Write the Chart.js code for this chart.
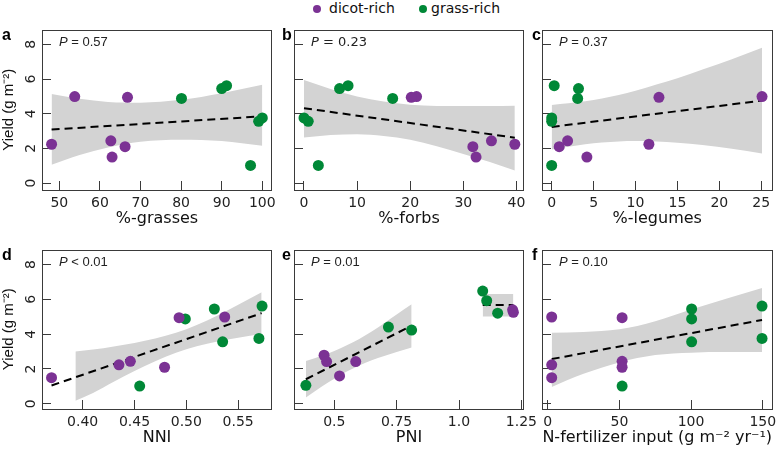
<!DOCTYPE html>
<html>
<head>
<meta charset="utf-8">
<script src="https://cdn.jsdelivr.net/npm/chart.js@4/dist/chart.umd.min.js"></script>
<style>
  body { margin: 0; background: #fff; }
  #wrap { position: relative; width: 778px; height: 451px; overflow: hidden; }
  #wrap canvas { position: absolute; }
  .key { position: absolute; top: 0; font: 14px "DejaVu Sans"; line-height: 17px; color: #111; white-space: nowrap; }
  .dot { position: absolute; top: 5px; width: 8px; height: 8px; border-radius: 50%; }
</style>
</head>
<body>
<div id="wrap">
  <span class="dot" style="left:313px; background:#7b3294"></span>
  <span class="key" style="left:329px">dicot-rich</span>
  <span class="dot" style="left:419px; background:#008837"></span>
  <span class="key" style="left:431px">grass-rich</span>
</div>
<script>
// yield per site, shared by panels a-d and f
const dicotYield = [2.24, 4.99, 2.44, 1.50, 2.10, 4.95];
const grassYield = [4.88, 5.45, 5.62, 1.02, 3.56, 3.76];
const yTicks = [0, 2, 4, 6, 8];

// a: %-grasses
const grassesDicot = [48.1, 53.8, 62.7, 63.0, 66.2, 66.8];
const grassesGrass = [80.1, 90.0, 91.2, 97.1, 99.1, 100.0];
const grassesFitX = [48.1, 100];
const grassesFitY = [3.09, 3.85];
const grassesBandX = [48.1, 55, 62, 70, 80, 90, 100];
const grassesBandLo = [1.05, 1.62, 2.05, 2.38, 2.5, 2.42, 2.15];
const grassesBandHi = [5.14, 4.86, 4.68, 4.64, 4.8, 5.18, 5.67];
const grassesTicks = [50, 60, 70, 80, 90, 100];

// b: %-forbs
const forbsDicot = [39.7, 21.2, 35.3, 32.4, 31.8, 20.2];
const forbsGrass = [16.7, 6.7, 8.3, 2.7, 0.8, 0.0];
const forbsFitX = [0, 39.7];
const forbsFitY = [4.32, 2.62];
const forbsBandX = [0, 5, 10, 15, 20, 25, 30, 35, 39.7];
const forbsBandLo = [2.63, 2.78, 2.82, 2.72, 2.5, 2.12, 1.68, 1.22, 0.72];
const forbsBandHi = [5.94, 5.42, 5.0, 4.7, 4.52, 4.45, 4.44, 4.44, 4.46];
const forbsTicks = [0, 10, 20, 30, 40];

// c: %-legumes
const legumesDicot = [11.6, 25.1, 1.9, 4.2, 0.9, 12.8];
const legumesGrass = [3.1, 3.2, 0.3, 0.0, 0.0, 0.0];
const legumesFitX = [0, 25.1];
const legumesFitY = [3.24, 4.76];
const legumesBandX = [0, 2, 4, 6, 8, 10, 12.5, 15, 18, 21.5, 25.1];
const legumesBandLo = [1.94, 2.1, 2.24, 2.34, 2.4, 2.42, 2.4, 2.33, 2.2, 1.98, 1.71];
const legumesBandHi = [4.51, 4.6, 4.72, 4.88, 5.08, 5.32, 5.68, 6.05, 6.55, 7.15, 7.81];
const legumesTicks = [0, 5, 10, 15, 20, 25];

// d: NNI
const nniDicot = [0.435, 0.537, 0.446, 0.370, 0.479, 0.493];
const nniGrass = [0.499, 0.527, 0.573, 0.455, 0.535, 0.570];
const nniFitX = [0.370, 0.5726];
const nniFitY = [1.05, 5.21];
const nniBandX = [0.393, 0.41, 0.43, 0.45, 0.47, 0.49, 0.51, 0.53, 0.55, 0.5726];
const nniBandLo = [0.17, 0.62, 1.26, 1.88, 2.45, 2.94, 3.31, 3.58, 3.80, 4.01];
const nniBandHi = [3.0, 3.12, 3.30, 3.50, 3.75, 4.08, 4.53, 5.08, 5.70, 6.41];
const nniTicks = [0.40, 0.45, 0.50, 0.55];
const nniLabels = ['0.40', '0.45', '0.50', '0.55'];

// e: PNI (own yields)
const pniDicotX = [0.459, 0.469, 0.521, 0.586, 1.215, 1.218];
const pniDicotY = [2.79, 2.43, 1.60, 2.43, 5.40, 5.26];
const pniGrassX = [0.386, 0.717, 0.810, 1.095, 1.111, 1.155];
const pniGrassY = [1.06, 4.41, 4.24, 6.48, 5.93, 5.21];
const pniFitX = [0.386, 0.810];
const pniFitY = [1.41, 4.49];
const pniBandX = [0.386, 0.45, 0.5, 0.55, 0.6, 0.65, 0.7, 0.75, 0.81];
const pniBandLo = [0.36, 0.99, 1.44, 1.85, 2.20, 2.50, 2.75, 2.98, 3.23];
const pniBandHi = [2.46, 2.76, 3.04, 3.36, 3.73, 4.16, 4.63, 5.13, 5.72];
const pniFit2X = [1.095, 1.218];
const pniFit2Y = [5.68, 5.68];
const pniBand2X = [1.095, 1.218];
const pniBand2Lo = [5.02, 5.02];
const pniBand2Hi = [6.31, 6.31];
const pniTicks = [0.5, 0.75, 1.0, 1.25];
const pniLabels = ['0.5', '0.75', '1.0', '1.25'];

// f: N-fertilizer input
const nDicot = [2.8, 2.8, 51.9, 2.8, 51.9, 51.9];
const nGrass = [100.4, 100.4, 149.5, 51.9, 100.4, 149.5];
const nFitX = [2.8, 149.5];
const nFitY = [2.57, 4.82];
const nBandX = [2.8, 25, 50, 75, 100, 125, 149.5];
const nBandLo = [0.97, 1.72, 2.38, 2.8, 2.94, 2.97, 2.98];
const nBandHi = [4.08, 4.12, 4.28, 4.75, 5.42, 6.05, 6.66];
const nTicks = [0, 50, 100, 150];

const purple = '#7b3294';
const green = '#008837';
const bandGray = '#d3d3d3';
const axisColor = '#3a3a3a';

function pts(xs, ys) {
    return xs.map((x, i) => ({ x: x, y: ys[i] }));
}

// box around the plot, panel letter and P value
const panelDecor = {
    id: 'panelDecor',
    afterDraw(chart, args, o) {
        const ctx = chart.ctx;
        const a = chart.chartArea;
        ctx.save();
        ctx.strokeStyle = axisColor;
        ctx.lineWidth = 1;
        ctx.strokeRect(Math.round(a.left) + 0.5, Math.round(a.top) + 0.5,
            Math.round(a.right - a.left) - 1, Math.round(a.bottom - a.top) - 1);

        ctx.fillStyle = '#000';
        ctx.textBaseline = 'alphabetic';
        ctx.textAlign = 'left';
        ctx.font = 'bold 16px "Liberation Sans"';
        ctx.fillText(o.letter, a.left + o.letterDx, a.top + 10);

        const py = chart.scales.y.getPixelForValue(8) + 1.5;
        ctx.fillStyle = '#222';
        ctx.font = 'italic 13px ' + o.pFont;
        ctx.fillText('P', a.left + 17, py);
        const w = ctx.measureText('P').width;
        ctx.font = '13px ' + o.pFont;
        ctx.fillText(o.pRest, a.left + 17 + w, py);
        ctx.restore();
    }
};

function makePanel(p) {
    const W = p.R - p.L;
    const H = p.B - p.T;
    const canvas = document.createElement('canvas');
    canvas.width = p.yw + W + p.pr;
    canvas.height = 4 + H + 38;
    canvas.style.left = (p.L - p.yw) + 'px';
    canvas.style.top = (p.T - 4) + 'px';
    document.getElementById('wrap').appendChild(canvas);

    const sets = [
        { label: 'dicot-rich', data: pts(p.dicotX, p.dicotY), backgroundColor: purple,
          borderWidth: 0, pointRadius: 5.5, showLine: false },
        { label: 'grass-rich', data: pts(p.grassX, p.grassY), backgroundColor: green,
          borderWidth: 0, pointRadius: 5.5, showLine: false }
    ];
    p.fits.forEach(f => {
        sets.push({ type: 'line', data: pts(f[0], f[1]), borderColor: '#000', borderWidth: 2,
            borderDash: [8, 5], pointRadius: 0, fill: false });
    });
    p.bands.forEach(b => {
        sets.push({ type: 'line', data: pts(b[0], b[2]), borderColor: 'rgba(0,0,0,0)', borderWidth: 0,
            pointRadius: 0, backgroundColor: bandGray, fill: '+1', cubicInterpolationMode: 'monotone' });
        sets.push({ type: 'line', data: pts(b[0], b[1]), borderColor: 'rgba(0,0,0,0)', borderWidth: 0,
            pointRadius: 0, fill: false, cubicInterpolationMode: 'monotone' });
    });

    new Chart(canvas.getContext('2d'), {
        type: 'scatter',
        data: { datasets: sets },
        plugins: [panelDecor],
        options: {
            responsive: false,
            animation: false,
            events: [],
            layout: { padding: { top: 4, right: p.pr, left: 0, bottom: 0 } },
            plugins: {
                legend: { display: false },
                tooltip: { enabled: false },
                panelDecor: { letter: p.letter, letterDx: p.letterDx, pRest: p.pRest, pFont: p.pFont }
            },
            scales: {
                x: {
                    type: 'linear',
                    min: p.xMin,
                    max: p.xMax,
                    afterBuildTicks: s => { s.ticks = p.xTicks.map(v => ({ value: v })); },
                    afterFit: s => { s.height = 38; s.paddingLeft = 0; s.paddingRight = 0; },
                    grid: { drawOnChartArea: false, tickLength: -9, tickColor: axisColor, color: axisColor },
                    border: { display: false },
                    ticks: {
                        autoSkip: false, maxRotation: 0, padding: 14, color: '#222',
                        font: { family: 'DejaVu Sans', size: 14 },
                        callback: (v, i) => p.xLabels[i]
                    },
                    title: { display: true, text: p.xTitle, color: '#111', padding: 0,
                        font: { family: 'DejaVu Sans', size: 16 } }
                },
                y: {
                    type: 'linear',
                    min: p.yMin,
                    max: p.yMax,
                    afterBuildTicks: s => { s.ticks = yTicks.map(v => ({ value: v })); },
                    afterFit: s => { s.width = p.yw; s.paddingTop = 0; s.paddingBottom = 0; },
                    grid: { drawOnChartArea: false, tickLength: -9, tickColor: axisColor, color: axisColor },
                    border: { display: false },
                    ticks: {
                        display: p.showY, autoSkip: false, minRotation: 90, maxRotation: 90,
                        crossAlign: 'center', padding: 15, color: '#222',
                        font: { family: 'DejaVu Sans', size: 14 }
                    },
                    title: { display: p.showY, text: 'Yield (g m⁻²)', color: '#111', padding: 0,
                        font: { family: 'Liberation Sans', size: 15 } }
                }
            }
        }
    });
}

document.addEventListener('DOMContentLoaded', function() {
    const row1 = { T: 28, B: 190, yMin: -0.4, yMax: 8.86 };
    const row2 = { T: 248, B: 409, yMin: -0.3, yMax: 8.87 };

    makePanel(Object.assign({}, row1, {
        L: 42, R: 272, yw: 42, pr: 10, showY: true, letter: 'a', letterDx: -40,
        pRest: ' = 0.57', pFont: '"Liberation Sans"',
        xMin: 45.74, xMax: 102.39, xTicks: grassesTicks, xLabels: grassesTicks.map(String), xTitle: '%-grasses',
        dicotX: grassesDicot, dicotY: dicotYield, grassX: grassesGrass, grassY: grassYield,
        fits: [[grassesFitX, grassesFitY]], bands: [[grassesBandX, grassesBandLo, grassesBandHi]]
    }));
    makePanel(Object.assign({}, row1, {
        L: 294, R: 524, yw: 20, pr: 14, showY: false, letter: 'b', letterDx: -12,
        pRest: ' = 0.23', pFont: '"DejaVu Sans"',
        xMin: -1.88, xMax: 41.43, xTicks: forbsTicks, xLabels: forbsTicks.map(String), xTitle: '%-forbs',
        dicotX: forbsDicot, dicotY: dicotYield, grassX: forbsGrass, grassY: grassYield,
        fits: [[forbsFitX, forbsFitY]], bands: [[forbsBandX, forbsBandLo, forbsBandHi]]
    }));
    makePanel(Object.assign({}, row1, {
        L: 542, R: 773, yw: 20, pr: 5, showY: false, letter: 'c', letterDx: -10,
        pRest: ' = 0.37', pFont: '"Liberation Sans"',
        xMin: -1.155, xMax: 26.35, xTicks: legumesTicks, xLabels: legumesTicks.map(String), xTitle: '%-legumes',
        dicotX: legumesDicot, dicotY: dicotYield, grassX: legumesGrass, grassY: grassYield,
        fits: [[legumesFitX, legumesFitY]], bands: [[legumesBandX, legumesBandLo, legumesBandHi]]
    }));
    makePanel(Object.assign({}, row2, {
        L: 42, R: 272, yw: 42, pr: 10, showY: true, letter: 'd', letterDx: -40,
        pRest: ' < 0.01', pFont: '"Liberation Sans"',
        xMin: 0.3608, xMax: 0.5826, xTicks: nniTicks, xLabels: nniLabels, xTitle: 'NNI',
        dicotX: nniDicot, dicotY: dicotYield, grassX: nniGrass, grassY: grassYield,
        fits: [[nniFitX, nniFitY]], bands: [[nniBandX, nniBandLo, nniBandHi]]
    }));
    makePanel(Object.assign({}, row2, {
        L: 294, R: 524, yw: 20, pr: 14, showY: false, letter: 'e', letterDx: -12,
        pRest: ' = 0.01', pFont: '"Liberation Sans"',
        xMin: 0.3384, xMax: 1.2606, xTicks: pniTicks, xLabels: pniLabels, xTitle: 'PNI',
        dicotX: pniDicotX, dicotY: pniDicotY, grassX: pniGrassX, grassY: pniGrassY,
        fits: [[pniFitX, pniFitY], [pniFit2X, pniFit2Y]],
        bands: [[pniBandX, pniBandLo, pniBandHi], [pniBand2X, pniBand2Lo, pniBand2Hi]]
    }));
    makePanel(Object.assign({}, row2, {
        L: 542, R: 773, yw: 20, pr: 5, showY: false, letter: 'f', letterDx: -10,
        pRest: ' = 0.10', pFont: '"Liberation Sans"',
        xMin: -3.97, xMax: 156.8, xTicks: nTicks, xLabels: nTicks.map(String),
        xTitle: 'N-fertilizer input (g m⁻² yr⁻¹)',
        dicotX: nDicot, dicotY: dicotYield, grassX: nGrass, grassY: grassYield,
        fits: [[nFitX, nFitY]], bands: [[nBandX, nBandLo, nBandHi]]
    }));
});
</script>
</body>
</html>
